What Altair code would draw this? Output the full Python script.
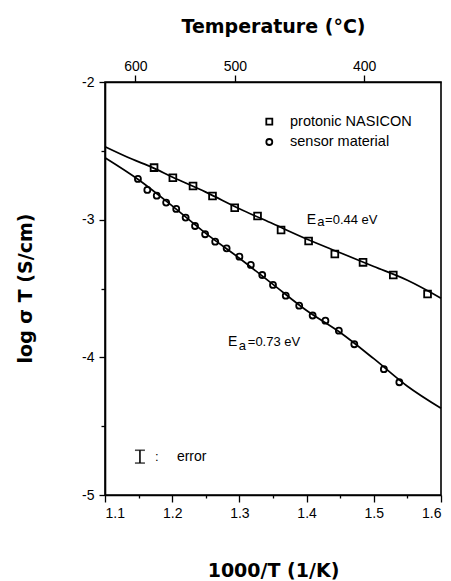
import altair as alt
import pandas as pd

# ---- data ----
nasicon_x = [1.173, 1.201, 1.231, 1.260, 1.293, 1.327, 1.362, 1.403, 1.442, 1.484, 1.529, 1.580]
nasicon_y = [-2.622, -2.695, -2.755, -2.828, -2.913, -2.973, -3.075, -3.155, -3.249, -3.310, -3.402, -3.540]

sensor_x = [1.149, 1.163, 1.177, 1.191, 1.206, 1.220, 1.234, 1.249, 1.264, 1.281, 1.300,
            1.317, 1.334, 1.350, 1.369, 1.389, 1.409, 1.428, 1.448, 1.471, 1.515, 1.538]
sensor_y = [-2.704, -2.784, -2.826, -2.876, -2.922, -2.985, -3.046, -3.106, -3.160, -3.208, -3.269,
            -3.329, -3.402, -3.474, -3.552, -3.625, -3.696, -3.734, -3.806, -3.905, -4.086, -4.181]

fit1_x = [1.10, 1.14, 1.17, 1.20, 1.25, 1.30, 1.35, 1.40, 1.45, 1.50, 1.55, 1.60]
fit1_y = [-2.47, -2.56, -2.62, -2.69, -2.80, -2.92, -3.03, -3.14, -3.24, -3.34, -3.44, -3.57]

fit2_x = [1.10, 1.15, 1.20, 1.25, 1.30, 1.35, 1.40, 1.45, 1.50, 1.55, 1.60]
fit2_y = [-2.55, -2.71, -2.90, -3.10, -3.28, -3.47, -3.66, -3.82, -4.01, -4.21, -4.37]

x_ticks = [1.1, 1.15, 1.2, 1.25, 1.3, 1.35, 1.4, 1.45, 1.5, 1.55, 1.6]
y_ticks = [-5, -4.5, -4, -3.5, -3, -2.5, -2]
temp_ticks = [600, 500, 400]

legend_labels = ["protonic NASICON", "sensor material"]
legend_shapes = ["square", "circle"]
legend_mx = [1.3445, 1.3445]
legend_tx = [1.3753, 1.3753]
legend_y = [-2.288, -2.436]

ea_E_x = [1.4001, 1.283]
ea_sub_x = [1.4160, 1.299]
ea_sub_dy = [2, 4]
ea_val_x = [1.4275, 1.3125]
ea_y = [-3.002, -3.886]
ea_vals = ["=0.44 eV", "=0.73 eV"]

err_x = [1.152]
err_lo = [-4.768]
err_hi = [-4.675]
err_mid = [-4.722]
err_colon_x = [1.1744]
err_text_x = [1.207]

# ---- tables ----
df_n = pd.DataFrame({"x": nasicon_x, "y": nasicon_y})
df_s = pd.DataFrame({"x": sensor_x, "y": sensor_y})
df_f1 = pd.DataFrame({"x": fit1_x, "y": fit1_y})
df_f2 = pd.DataFrame({"x": fit2_x, "y": fit2_y})
df_leg = pd.DataFrame({"mx": legend_mx, "tx": legend_tx, "y": legend_y,
                       "label": legend_labels, "shape": legend_shapes})
df_ea = pd.DataFrame({"ex": ea_E_x, "sx": ea_sub_x, "vx": ea_val_x, "y": ea_y, "val": ea_vals})
df_ea_up = df_ea.iloc[[0]]
df_ea_lo = df_ea.iloc[[1]]
df_err = pd.DataFrame({"x": err_x, "lo": err_lo, "hi": err_hi, "mid": err_mid,
                       "cx": err_colon_x, "tx": err_text_x})
df_temp = pd.DataFrame({"x": [1000.0 / (t + 273.15) for t in temp_ticks], "y": [-2.0] * len(temp_ticks)})

FONT = "Liberation Sans"
TFONT = "DejaVu Sans"
major_x = "abs(datum.value*10 - round(datum.value*10)) < 0.001"
major_y = "abs(datum.value - round(datum.value)) < 0.001"

xscale = alt.Scale(domain=[1.1, 1.6], nice=False, zero=False)
yscale = alt.Scale(domain=[-5, -2], nice=False, zero=False)

x_axis = alt.Axis(
    values=x_ticks, orient="bottom", grid=False,
    labelExpr=f"{major_x} ? format(datum.value, '.1f') : ''",
    tickSize={"condition": {"test": major_x, "value": 7}, "value": 3},
    tickColor="black", tickWidth=1.3, domainColor="black", domainWidth=1.6,
    labelFont=FONT, labelFontSize=14, labelColor="black", labelPadding=4,
    title="1000/T  (1/K)", titleFont=TFONT, titleFontSize=19, titleFontWeight="bold",
    titleColor="black", titleY=75, titleBaseline="middle",
)
y_axis = alt.Axis(
    values=y_ticks, grid=False,
    labelExpr=f"{major_y} ? '' + datum.value : ''",
    tickSize={"condition": {"test": major_y, "value": 6}, "value": 4},
    tickColor="black", tickWidth=1.3, domainColor="black", domainWidth=1.6,
    labelFont=FONT, labelFontSize=14, labelColor="black", labelPadding=5,
    title="log σ T  (S/cm)", titleFont=TFONT, titleFontSize=19, titleFontWeight="bold",
    titleColor="black", titleX=-80, titleY=206, titleAngle=-90,
    titleAlign="center", titleBaseline="middle",
)

X = alt.X("x:Q", scale=xscale, axis=x_axis)
Y = alt.Y("y:Q", scale=yscale, axis=y_axis)

fit1 = alt.Chart(df_f1).mark_line(color="black", strokeWidth=1.7, interpolate="monotone").encode(x=X, y=Y)
fit2 = alt.Chart(df_f2).mark_line(color="black", strokeWidth=1.7, interpolate="monotone").encode(x=X, y=Y)
pts_n = alt.Chart(df_n).mark_point(shape="square", filled=False, color="black",
                                   strokeWidth=1.8, size=46, opacity=1).encode(x=X, y=Y)
pts_s = alt.Chart(df_s).mark_point(shape="circle", filled=False, color="black",
                                   strokeWidth=1.8, size=36, opacity=1).encode(x=X, y=Y)

leg_marks = alt.Chart(df_leg).mark_point(filled=False, color="black", strokeWidth=1.8,
                                          size=36, opacity=1).encode(
    x=alt.X("mx:Q", scale=xscale, axis=x_axis), y=alt.Y("y:Q", scale=yscale, axis=y_axis),
    shape=alt.Shape("shape:N", scale=alt.Scale(domain=["square", "circle"], range=["square", "circle"]), legend=None),
)
leg_text = alt.Chart(df_leg).mark_text(align="left", baseline="middle", font=FONT,
                                       fontSize=14.5, color="black").encode(
    x=alt.X("tx:Q", scale=xscale, axis=x_axis), y=alt.Y("y:Q", scale=yscale, axis=y_axis), text="label:N")

ea_E = alt.Chart(df_ea).mark_text(align="left", baseline="middle", font=FONT, fontSize=14,
                                  color="black").encode(
    x=alt.X("ex:Q", scale=xscale, axis=x_axis), y=alt.Y("y:Q", scale=yscale, axis=y_axis), text=alt.value("E"))
ea_sub_up = alt.Chart(df_ea_up).mark_text(align="left", baseline="middle", font=FONT, fontSize=13,
                                          color="black", dy=ea_sub_dy[0]).encode(
    x=alt.X("sx:Q", scale=xscale, axis=x_axis), y=alt.Y("y:Q", scale=yscale, axis=y_axis), text=alt.value("a"))
ea_sub_lo = alt.Chart(df_ea_lo).mark_text(align="left", baseline="middle", font=FONT, fontSize=13,
                                          color="black", dy=ea_sub_dy[1]).encode(
    x=alt.X("sx:Q", scale=xscale, axis=x_axis), y=alt.Y("y:Q", scale=yscale, axis=y_axis), text=alt.value("a"))
ea_val = alt.Chart(df_ea).mark_text(align="left", baseline="middle", font=FONT, fontSize=13,
                                    color="black").encode(
    x=alt.X("vx:Q", scale=xscale, axis=x_axis), y=alt.Y("y:Q", scale=yscale, axis=y_axis), text="val:N")

err_rule = alt.Chart(df_err).mark_rule(color="black", strokeWidth=1.6).encode(
    x=alt.X("x:Q", scale=xscale, axis=x_axis), y=alt.Y("lo:Q", scale=yscale, axis=y_axis), y2="hi:Q")
err_cap_lo = alt.Chart(df_err).mark_tick(color="black", orient="horizontal", size=10, thickness=1.6).encode(
    x=alt.X("x:Q", scale=xscale, axis=x_axis), y=alt.Y("lo:Q", scale=yscale, axis=y_axis))
err_cap_hi = alt.Chart(df_err).mark_tick(color="black", orient="horizontal", size=10, thickness=1.6).encode(
    x=alt.X("x:Q", scale=xscale, axis=x_axis), y=alt.Y("hi:Q", scale=yscale, axis=y_axis))
err_colon = alt.Chart(df_err).mark_text(align="left", baseline="middle", font=FONT, fontSize=13,
                                        color="black").encode(
    x=alt.X("cx:Q", scale=xscale, axis=x_axis), y=alt.Y("mid:Q", scale=yscale, axis=y_axis), text=alt.value(":"))
err_text = alt.Chart(df_err).mark_text(align="left", baseline="middle", font=FONT, fontSize=14,
                                       color="black").encode(
    x=alt.X("tx:Q", scale=xscale, axis=x_axis), y=alt.Y("mid:Q", scale=yscale, axis=y_axis), text=alt.value("error"))

inner = alt.layer(fit1, fit2, pts_n, pts_s, leg_marks, leg_text, ea_E, ea_sub_up, ea_sub_lo, ea_val,
                  err_rule, err_cap_lo, err_cap_hi, err_colon, err_text)

top_axis = alt.Axis(
    values=list(df_temp["x"]), orient="top", grid=False,
    labelExpr="format(1000/datum.value - 273.15, '.0f')",
    tickSize=7, tickColor="black", tickWidth=1.3, domainColor="black", domainWidth=1.6,
    labelFont=FONT, labelFontSize=14, labelColor="black", labelPadding=2,
    title="Temperature  (°C)", titleFont=TFONT, titleFontSize=19, titleFontWeight="bold",
    titleColor="black", titleY=-56, titleBaseline="middle",
)
top = alt.Chart(df_temp).mark_point(opacity=0).encode(
    x=alt.X("x:Q", scale=xscale, axis=top_axis),
    y=alt.Y("y:Q", scale=yscale, axis=y_axis),
)

chart = alt.layer(inner, top).resolve_axis(x="independent").properties(
    width=336, height=413,
    padding={"left": 105, "top": 82, "right": 10, "bottom": 86},
    autosize=alt.AutoSizeParams(type="none"),
    background="white",
).configure_view(stroke="black", strokeWidth=1.6)

chart.save("out.html", embed_options={"renderer": "svg", "actions": False})
